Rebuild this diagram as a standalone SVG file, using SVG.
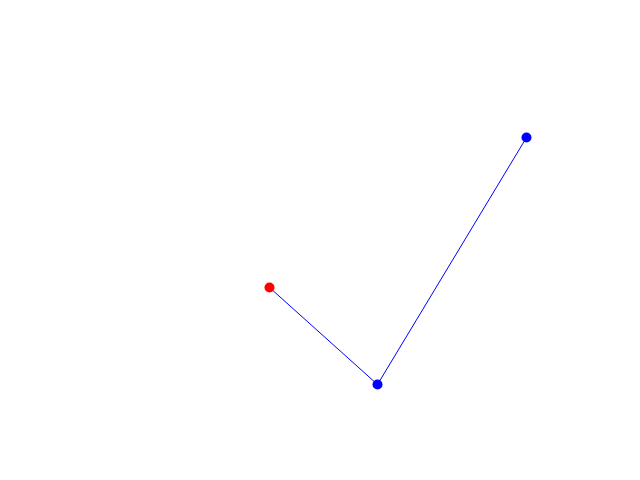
<svg xmlns="http://www.w3.org/2000/svg" width="640" height="480" viewBox="0 0 640 480">
<style>
.edge{stroke:#0000ff;stroke-width:1;fill:none}
.dot{stroke:none}
</style>
<rect width="640" height="480" fill="#ffffff"/>
<g id="connectors">
<path class="edge" d="M269.5,287.5 L377.5,384.5"/>
<path class="edge" d="M377.5,384.5 L526.5,137.5"/>
</g>
<g id="node-a"><circle class="dot" cx="269.5" cy="287.5" r="5" fill="#ff0000"/></g>
<g id="node-b"><circle class="dot" cx="377.5" cy="384.5" r="5" fill="#0000ff"/></g>
<g id="node-c"><circle class="dot" cx="526.5" cy="137.5" r="5" fill="#0000ff"/></g>
</svg>
